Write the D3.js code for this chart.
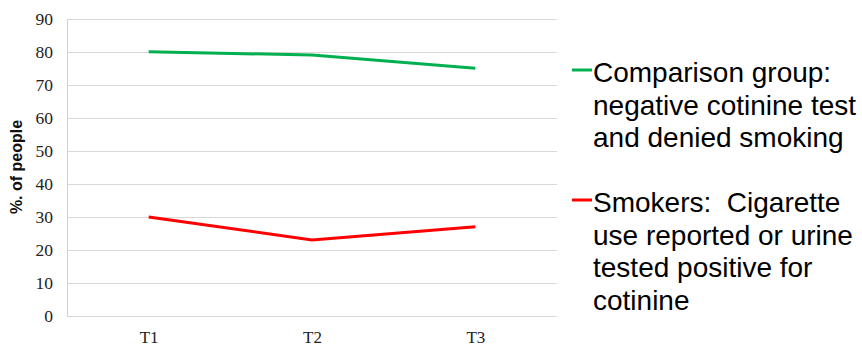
<!DOCTYPE html>
<html lang="en">
<head>
    <meta charset="UTF-8">
    <title>% of people by time point</title>
    <script src="https://d3js.org/d3.v7.min.js"></script>
    <style>
        body { margin: 0; background: white; }
        svg { display: block; }
    </style>
</head>
<body>
    <div id="chart"></div>
    <script>
        // data
        const timePoints = ["T1", "T2", "T3"];
        const comparisonValues = [80, 79, 75];
        const smokerValues = [30, 23, 27];
        const yTicks = [0, 10, 20, 30, 40, 50, 60, 70, 80, 90];
        const comparisonLabel = ["Comparison group:", "negative cotinine test", "and denied smoking"];
        const smokerLabel = ["Smokers:  Cigarette", "use reported or urine", "tested positive for", "cotinine"];

        const width = 862, height = 348;
        const plot = { left: 67, right: 557, top: 18.7, bottom: 316 };

        const svg = d3.select("#chart")
            .append("svg")
            .attr("width", width)
            .attr("height", height);

        const x = d3.scalePoint()
            .domain(timePoints)
            .range([plot.left, plot.right])
            .padding(0.5);

        const y = d3.scaleLinear()
            .domain([0, 90])
            .range([plot.bottom, plot.top]);

        // gridlines
        svg.append("g")
            .selectAll("line")
            .data(yTicks)
            .enter()
            .append("line")
            .attr("x1", plot.left)
            .attr("x2", plot.right)
            .attr("y1", d => Math.round(y(d)) + 0.5)
            .attr("y2", d => Math.round(y(d)) + 0.5)
            .attr("stroke", "#d9d9d9")
            .attr("stroke-width", 1);

        // left axis line
        svg.append("line")
            .attr("x1", plot.left + 0.5)
            .attr("x2", plot.left + 0.5)
            .attr("y1", Math.round(y(90)) + 0.5)
            .attr("y2", Math.round(y(0)) + 0.5)
            .attr("stroke", "#d0d0d0");

        // y axis labels
        const yAxis = d3.axisLeft(y).tickValues(yTicks).tickSize(0).tickPadding(14);
        const yG = svg.append("g")
            .attr("transform", `translate(${plot.left},0)`)
            .call(yAxis);
        yG.select(".domain").remove();
        yG.selectAll("text")
            .attr("font-family", "'Liberation Serif', 'Times New Roman', serif")
            .attr("font-size", 17.5)
            .attr("fill", "#222");

        // x axis labels
        const xAxis = d3.axisBottom(x).tickSize(0).tickPadding(0);
        const xG = svg.append("g")
            .attr("transform", `translate(0,${plot.bottom})`)
            .call(xAxis);
        xG.select(".domain").remove();
        xG.selectAll("text")
            .attr("dy", null)
            .attr("y", 27)
            .attr("font-family", "'Liberation Serif', 'Times New Roman', serif")
            .attr("font-size", 17)
            .attr("fill", "#222");

        // y title
        svg.append("text")
            .attr("transform", "translate(22,167) rotate(-90)")
            .attr("text-anchor", "middle")
            .attr("font-family", "'Liberation Sans', Arial, sans-serif")
            .attr("font-weight", "bold")
            .attr("font-size", 16)
            .attr("fill", "#111")
            .text("%. of people");

        const line = d3.line()
            .x((d, i) => x(timePoints[i]))
            .y(d => y(d));

        const series = [
            { values: comparisonValues, color: "#00b050", label: comparisonLabel, top: 82 },
            { values: smokerValues, color: "#ff0000", label: smokerLabel, top: 212 }
        ];

        series.forEach(s => {
            svg.append("path")
                .datum(s.values)
                .attr("d", line)
                .attr("fill", "none")
                .attr("stroke", s.color)
                .attr("stroke-width", 3);

            // legend
            svg.append("line")
                .attr("x1", 572)
                .attr("x2", 592)
                .attr("y1", s.top - 12)
                .attr("y2", s.top - 12)
                .attr("stroke", s.color)
                .attr("stroke-width", 3);

            const t = svg.append("text")
                .attr("font-family", "'Liberation Sans', Arial, sans-serif")
                .attr("font-size", 28)
                .attr("fill", "#000");
            s.label.forEach((l, i) => {
                t.append("tspan")
                    .attr("x", 593)
                    .attr("y", s.top + i * 32.5)
                    .style("white-space", "pre")
                    .text(l);
            });
        });
    </script>
</body>
</html>
